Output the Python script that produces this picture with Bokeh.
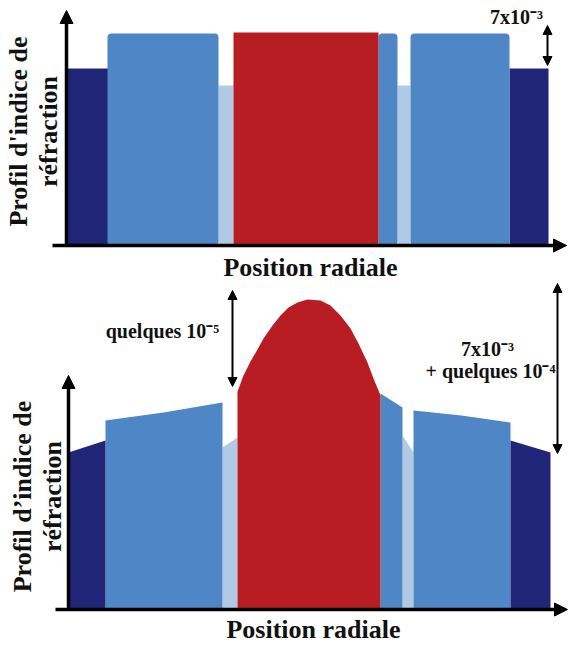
from bokeh.plotting import figure
from bokeh.layouts import column
from bokeh.models import Range1d, Label, Arrow, NormalHead
from bokeh.embed import file_html
from bokeh.resources import INLINE

NAVY = "#212578"
BLUE = "#4e86c6"
PALE = "#b0c9e4"
RED = "#b81d23"
FONT = "Liberation Serif"

# ---- Top panel: step-index profile (radial position, index step height) ----
top_pale_left = [151, 330]
top_pale_right = [166, 343]
top_pale_top = [160, 160]

top_blue_left = [40, 311, 343]
top_blue_right = [151, 330, 442]
top_blue_top = [212, 212, 212]

top_navy_left = [0, 442]
top_navy_right = [43, 481]
top_navy_top = [177, 177]

top_core_left = [166]
top_core_right = [311]
top_core_top = [213]

# ---- Bottom panel: graded profile (radial position, index height) ----
bot_pale_x = [[154, 169], [334, 345]]
bot_pale_top = [[162, 172], [174, 157]]

bot_blue_x = [[37, 95, 154], [312, 334], [345, 393, 442]]
bot_blue_top = [[189, 197, 207], [216, 202], [199, 194, 187]]

bot_navy_x = [[0, 37], [442, 482]]
bot_navy_top = [[157, 169], [169, 157]]

bot_core_x = [169, 175, 182, 189, 195, 204, 212, 220, 229, 239, 252, 262,
              272, 282, 290, 299, 305, 310, 312]
bot_core_top = [218, 234, 248, 260, 271, 284, 294, 302, 307, 310, 309, 304,
                294, 281, 266, 247, 231, 219, 214]

W = 572


def new_fig(h, yr, xr):
    p = figure(width=W, height=h, output_backend="svg", toolbar_location=None,
               x_range=Range1d(*xr), y_range=Range1d(*yr),
               x_axis_location=None, y_axis_location=None, min_border=0,
               outline_line_color=None, background_fill_color="white",
               border_fill_color="white")
    p.grid.visible = False
    return p


def polys(xs_list, tops_list):
    xs, ys = [], []
    for xs_seg, t in zip(xs_list, tops_list):
        xs.append([xs_seg[0]] + list(xs_seg) + [xs_seg[-1]])
        ys.append([0] + list(t) + [0])
    return xs, ys


def text(p, x, y, s, size, angle=0.0):
    p.add_layout(Label(x=x, y=y, text=s, text_font=FONT, text_font_style="bold",
                       text_font_size=f"{size}px", text_align="center",
                       text_baseline="alphabetic", angle=angle, text_color="#111111"))


def axes(p, x0, x1, y_axis_x, y_tip):
    head = dict(fill_color="black", line_color="black")
    p.add_layout(Arrow(x_start=y_axis_x, y_start=-1, x_end=y_axis_x, y_end=y_tip,
                       line_width=3.5, line_color="black", end=NormalHead(size=13, **head)))
    p.add_layout(Arrow(x_start=x0, y_start=0, x_end=x1, y_end=0,
                       line_width=3.5, line_color="black", end=NormalHead(size=13, **head)))


def dbl(p, x, y0, y1):
    head = dict(fill_color="black", line_color="black")
    p.add_layout(Arrow(x_start=x, y_start=y0, x_end=x, y_end=y1,
                       line_width=2, line_color="black",
                       start=NormalHead(size=9, **head), end=NormalHead(size=9, **head)))


# ================= top =================
top = new_fig(282, (-37, 245), (-67, 505))
top.quad(left=top_pale_left, right=top_pale_right, top=top_pale_top, bottom=0,
         fill_color=PALE, line_color=None)
top.quad(left=top_navy_left, right=top_navy_right, top=top_navy_top, bottom=0,
         fill_color=NAVY, line_color=None)
top.quad(left=top_blue_left, right=top_blue_right, top=top_blue_top, bottom=0,
         fill_color=BLUE, line_color=None, border_radius=4)
top.quad(left=top_core_left, right=top_core_right, top=top_core_top, bottom=0,
         fill_color=RED, line_color=None)
axes(top, -15, 499, -1, 235)
text(top, 243, -22, "Position radiale", 26)
text(top, -49, 114, "Profil d'indice de", 26, angle=1.5708)
text(top, -19, 114, "réfraction", 26, angle=1.5708)
text(top, 449, 229, "7x10⁻³", 20)
dbl(top, 480, 220, 180)

# ================= bottom =================
bot = new_fig(364, (-37, 327), (-68, 504))
xs, ys = polys(bot_pale_x, bot_pale_top)
bot.patches(xs, ys, fill_color=PALE, line_color=None)
xs, ys = polys(bot_blue_x, bot_blue_top)
bot.patches(xs, ys, fill_color=BLUE, line_color=None)
xs, ys = polys(bot_navy_x, bot_navy_top)
bot.patches(xs, ys, fill_color=NAVY, line_color=None)
bot.patch([bot_core_x[0]] + bot_core_x + [bot_core_x[-1]],
          [0] + bot_core_top + [0], fill_color=RED, line_color=None)
axes(bot, -13, 499, 0, 234)
text(bot, 245, -20, "Position radiale", 26)
text(bot, -46, 113, "Profil d’indice de", 26, angle=1.5708)
text(bot, -16, 113, "réfraction", 26, angle=1.5708)
text(bot, 94, 279, "quelques 10⁻⁵", 20)
dbl(bot, 164, 319, 223)
text(bot, 419, 261, "7x10⁻³", 20)
text(bot, 422, 239, "+ quelques 10⁻⁴", 20)
dbl(bot, 489, 326, 156)

layout = column(top, bot, spacing=0)
open("out.html", "w").write(file_html(layout, INLINE))
